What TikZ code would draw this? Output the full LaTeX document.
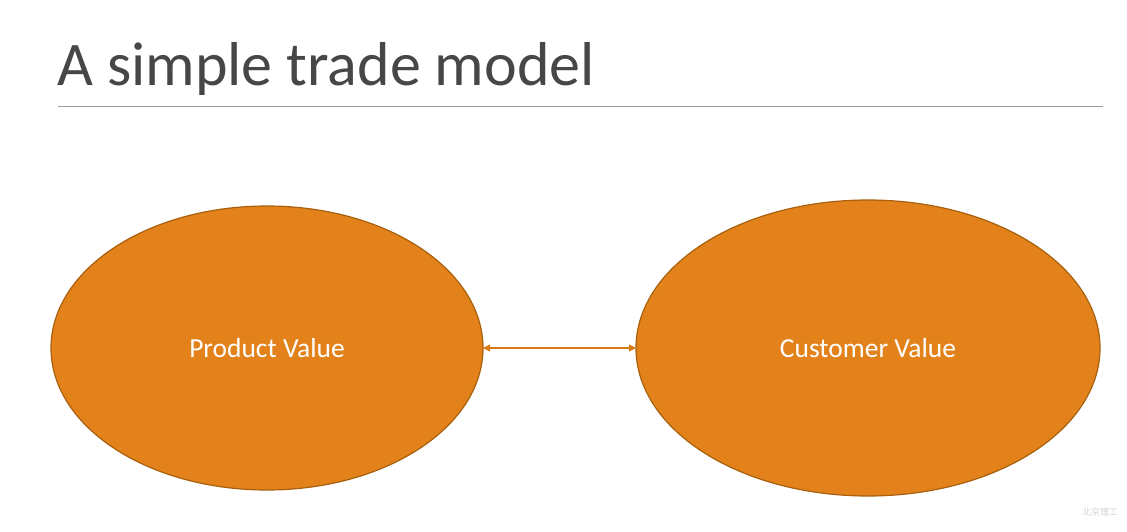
\documentclass[tikz,border=0pt]{standalone}
\usepackage{fontspec}
\setmainfont{Carlito}
\newfontfamily\cjk{Noto Sans CJK SC}
\usetikzlibrary{arrows.meta}
\definecolor{fillorange}{HTML}{E3821A}
\definecolor{edgebrown}{HTML}{A8600F}
\definecolor{arrowc}{HTML}{D97A14}
\definecolor{titlegray}{HTML}{474747}
\definecolor{rulegray}{HTML}{9A9A9A}
\definecolor{wmgray}{HTML}{D4D4D4}
\tikzset{
  lbl/.style={text=white, font=\fontsize{27.5}{30}\selectfont},
}
\begin{document}
\begin{tikzpicture}[x=1pt,y=-1pt]
\useasboundingbox (0,0) rectangle (1127,532);
\fill[white] (0,0) rectangle (1127,532);
\node[anchor=base west, inner sep=0, text=titlegray, font=\fontsize{62}{70}\selectfont] (title) at (57,86) {A simple trade model};
\draw[rulegray, line width=1pt] (58,107) coordinate (r1) -- (1103,107) coordinate (r2);
\draw[edgebrown, line width=1.2pt, fill=fillorange] (267,348) ellipse [x radius=216, y radius=142];
\draw[edgebrown, line width=1.2pt, fill=fillorange] (868,348) ellipse [x radius=232, y radius=148];
\coordinate (pR) at (483,348);
\coordinate (cL) at (636,348);
\node[lbl] (pv) at (267,348) {Product Value};
\node[lbl] (cv) at (868,348) {Customer Value};
\draw[arrowc, line width=1.2pt, {Triangle[length=7pt,width=7pt]}-{Triangle[length=7pt,width=7pt]}] (pR) -- (cL);
\node[text=wmgray, font=\cjk\fontsize{9}{10}\selectfont] (wm) at (1100,512) {北京理工};
\end{tikzpicture}
\end{document}
